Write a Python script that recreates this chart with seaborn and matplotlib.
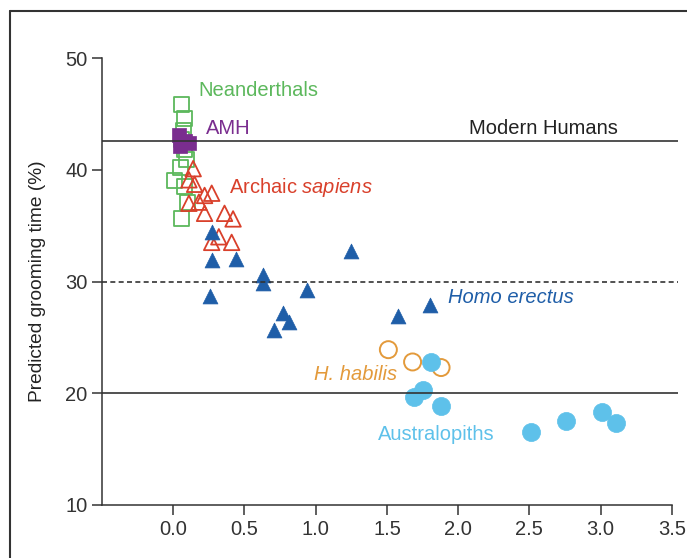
import matplotlib
matplotlib.use("Agg")
import matplotlib.pyplot as plt
import seaborn as sns

# grooming time vs. x
neand_x = [0.06, 0.08, 0.07, 0.06, 0.08, 0.09, 0.05, 0.01, 0.08, 0.10, 0.06]
neand_y = [45.8, 44.6, 43.5, 42.7, 41.8, 40.9, 40.2, 39.0, 38.5, 37.1, 35.6]

amh_x = [0.04, 0.08, 0.11, 0.05]
amh_y = [43.1, 42.6, 42.4, 42.1]

archaic_x = [0.14, 0.11, 0.15, 0.22, 0.27, 0.11, 0.18, 0.22, 0.36, 0.42, 0.27, 0.32, 0.41]
archaic_y = [40.1, 39.1, 38.7, 37.7, 37.9, 37.0, 37.1, 36.1, 36.1, 35.6, 33.5, 34.0, 33.5]

erectus_x = [0.27, 0.27, 0.44, 1.25, 0.63, 0.63, 0.94, 0.26, 0.77, 0.81, 0.71, 1.58, 1.80]
erectus_y = [34.4, 31.9, 32.0, 32.7, 30.6, 29.9, 29.2, 28.7, 27.2, 26.4, 25.7, 26.9, 27.9]

habilis_x = [1.51, 1.68, 1.88]
habilis_y = [23.9, 22.8, 22.3]

austr_x = [1.81, 1.75, 1.69, 1.88, 2.51, 2.76, 3.01, 3.11]
austr_y = [22.8, 20.3, 19.7, 18.9, 16.5, 17.5, 18.3, 17.3]

modern_humans = 42.6
ref_lines = [30, 20]

green = "#5cb85c"
purple = "#7a2d8f"
red = "#d9402b"
blue = "#1f5ea8"
orange = "#e39a3b"
lightblue = "#5ec1ea"

sns.set_style("ticks")
plt.rcParams["font.family"] = ["Liberation Sans", "DejaVu Sans"]
plt.rcParams["mathtext.fontset"] = "custom"
plt.rcParams["mathtext.it"] = "Liberation Sans:italic"
plt.rcParams["mathtext.rm"] = "Liberation Sans"

fig = plt.figure(figsize=(6.87, 5.58), dpi=100)
ax = fig.add_axes([102 / 687, 53 / 558, 577 / 687, 447 / 558])

# reference lines
ax.hlines(modern_humans, -0.5, 3.54, color="#333333", lw=1.2)
ax.hlines(ref_lines[0], -0.5, 3.54, color="#333333", lw=1.2, ls=(0, (3, 2)))
ax.hlines(ref_lines[1], -0.5, 3.54, color="#333333", lw=1.2)

sns.scatterplot(x=neand_x, y=neand_y, marker="s", s=115, fc="none", ec=green, lw=1.3, ax=ax)
sns.scatterplot(x=amh_x, y=amh_y, marker="s", s=115, color=purple, ec=purple, lw=0.5, ax=ax)
sns.scatterplot(x=archaic_x, y=archaic_y, marker="^", s=125, fc="none", ec=red, lw=1.3, ax=ax)
sns.scatterplot(x=erectus_x, y=erectus_y, marker="^", s=115, color=blue, ec=blue, lw=0.5, ax=ax)
sns.scatterplot(x=habilis_x, y=habilis_y, marker="o", s=150, fc="none", ec=orange, lw=1.4, ax=ax)
sns.scatterplot(x=austr_x, y=austr_y, marker="o", s=170, color=lightblue, ec=lightblue, lw=0.5, ax=ax)

fs = 14.5
ax.text(0.175, 47.1, "Neanderthals", color=green, fontsize=fs, va="center")
ax.text(0.23, 43.7, "AMH", color=purple, fontsize=fs, va="center")
ax.text(3.12, 43.7, "Modern Humans", color="#222222", fontsize=fs, va="center", ha="right")
ax.text(0.39, 38.4, r"Archaic $\mathit{sapiens}$", color=red, fontsize=fs, va="center")
ax.text(1.93, 28.6, "Homo erectus", color=blue, fontsize=fs, va="center", style="italic")
ax.text(0.99, 21.7, "H. habilis", color=orange, fontsize=fs, va="center", style="italic")
ax.text(1.44, 16.3, "Australopiths", color=lightblue, fontsize=fs, va="center")

ax.set_xlim(-0.5, 3.55)
ax.set_ylim(10, 50)
ax.set_xticks([0.0, 0.5, 1.0, 1.5, 2.0, 2.5, 3.0, 3.5])
ax.set_xticklabels(["0.0", "0.5", "1.0", "1.5", "2.0", "2.5", "3.0", "3.5"])
ax.set_yticks([10, 20, 30, 40, 50])
ax.set_ylabel("Predicted grooming time (%)", fontsize=13.8, color="#222222", labelpad=14)
ax.tick_params(labelsize=14.5, colors="#333333", length=7, width=1.1)
for side in ["left", "bottom"]:
    ax.spines[side].set_color("#333333")
    ax.spines[side].set_linewidth(1.1)
ax.spines["bottom"].set_bounds(-0.5, 3.5)
sns.despine(ax=ax)

# outer frame (left and top edges visible in the original)
fig.add_artist(plt.Line2D([10 / 687, 10 / 687], [0, 1 - 11 / 558], color="#333333", lw=1.5))
fig.add_artist(plt.Line2D([10 / 687, 1], [1 - 11 / 558, 1 - 11 / 558], color="#333333", lw=1.5))

fig.savefig("out.png", dpi=100)
